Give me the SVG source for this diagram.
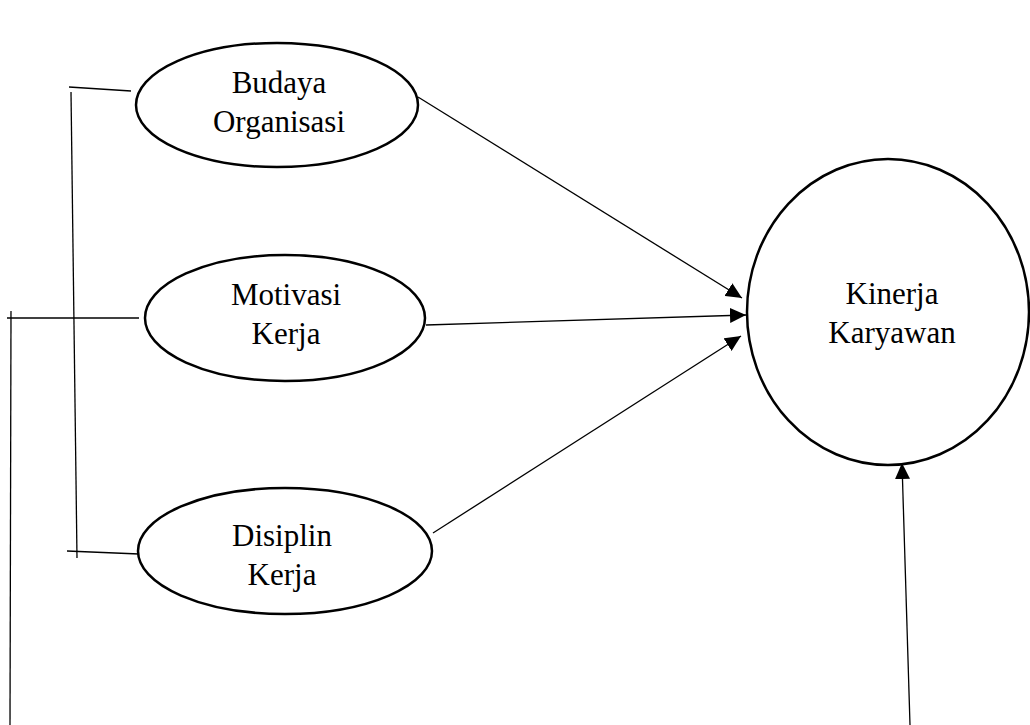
<svg xmlns="http://www.w3.org/2000/svg" width="1030" height="725" viewBox="0 0 1030 725">
<style>
.node{fill:#fff;stroke:#000;stroke-width:2.5}
.lbl{font-family:"Liberation Serif","Times New Roman",serif;font-size:31px;fill:#000;text-anchor:middle}
.ln{stroke:#000;stroke-width:1.3;fill:none}
</style>
<defs>
<marker id="ah" viewBox="0 0 16 15" refX="16" refY="7.5" markerWidth="16" markerHeight="15" markerUnits="userSpaceOnUse" orient="auto">
<path d="M0,0 L16,7.5 L0,15 z" fill="#000"/>
</marker>
</defs>
<rect width="1030" height="725" fill="#fff"/>
<g id="connectors">
<line class="ln" x1="69" y1="87" x2="131" y2="91"/>
<line class="ln" x1="71" y1="92" x2="77" y2="558"/>
<line class="ln" x1="67" y1="551" x2="139" y2="554"/>
<line class="ln" x1="7" y1="318" x2="139" y2="318"/>
<line class="ln" x1="11" y1="311" x2="10" y2="725"/>
<line class="ln" x1="418" y1="97" x2="742" y2="298" marker-end="url(#ah)"/>
<line class="ln" x1="426" y1="325" x2="746" y2="315" marker-end="url(#ah)"/>
<line class="ln" x1="433" y1="533" x2="741" y2="336" marker-end="url(#ah)"/>
<line class="ln" x1="910" y1="725" x2="902" y2="463" marker-end="url(#ah)"/>
</g>
<g id="budaya">
<ellipse class="node" cx="277" cy="105" rx="141" ry="62"/>
<text class="lbl" x="279" y="93">Budaya</text>
<text class="lbl" x="279" y="132">Organisasi</text>
</g>
<g id="motivasi">
<ellipse class="node" cx="285" cy="318" rx="140" ry="63"/>
<text class="lbl" x="286" y="305">Motivasi</text>
<text class="lbl" x="286" y="344">Kerja</text>
</g>
<g id="disiplin">
<ellipse class="node" cx="285" cy="551" rx="147" ry="63"/>
<text class="lbl" x="282" y="546">Disiplin</text>
<text class="lbl" x="282" y="585">Kerja</text>
</g>
<g id="kinerja">
<ellipse class="node" cx="888" cy="312" rx="141" ry="153"/>
<text class="lbl" x="892" y="304">Kinerja</text>
<text class="lbl" x="892" y="343">Karyawan</text>
</g>
</svg>
